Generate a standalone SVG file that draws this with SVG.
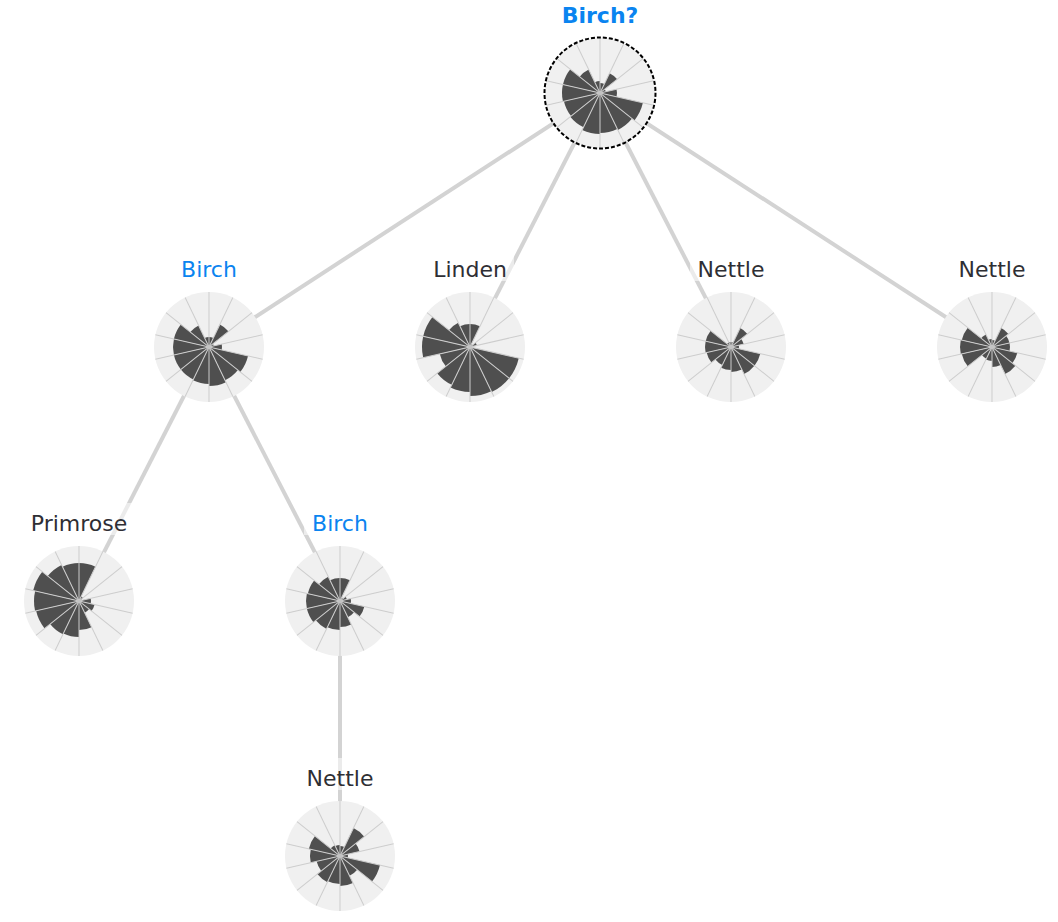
<svg xmlns="http://www.w3.org/2000/svg" width="1058" height="922" viewBox="0 0 1058 922">
  <style>
    .bg{fill:#f0f0f0}
    .bar{fill:#4f4f4f}
    .spk line{stroke:#cdcdcd;stroke-width:1}
    .hub{fill:#c4c4c4}
    .edge{stroke:#d3d3d3;stroke-width:4;fill:none}
    .lbg{fill:#ffffff;fill-opacity:0.55}
    .lbl{font-family:"DejaVu Sans","Noto Sans",sans-serif;font-size:22px;text-anchor:middle;fill:#2e2e34}
    .cur{fill:#0a84f0}
    .root{font-weight:bold}
    .ring{fill:none;stroke:#000;stroke-width:2;stroke-dasharray:4 2}
  </style>
  <defs>
    <!-- one unit wedge of a 14-sector radial bar chart, starting at 12 o'clock -->
    <path id="w" d="M0 0L0 -1A1 1 0 0 1 0.43388 -0.90097Z"/>
    <!-- sector boundary spokes -->
    <g id="spk" class="spk">
      <line x1="0" y1="-55" x2="0" y2="55"/>
      <line x1="0" y1="-55" x2="0" y2="55" transform="rotate(25.714)"/>
      <line x1="0" y1="-55" x2="0" y2="55" transform="rotate(51.429)"/>
      <line x1="0" y1="-55" x2="0" y2="55" transform="rotate(77.143)"/>
      <line x1="0" y1="-55" x2="0" y2="55" transform="rotate(102.857)"/>
      <line x1="0" y1="-55" x2="0" y2="55" transform="rotate(128.571)"/>
      <line x1="0" y1="-55" x2="0" y2="55" transform="rotate(154.286)"/>
    </g>
  </defs>

  <g id="connectors">
    <line class="edge" x1="600" y1="93" x2="209" y2="347"/>
    <line class="edge" x1="600" y1="93" x2="470" y2="347"/>
    <line class="edge" x1="600" y1="93" x2="731" y2="347"/>
    <line class="edge" x1="600" y1="93" x2="992" y2="347"/>
    <line class="edge" x1="209" y1="347" x2="79" y2="601"/>
    <line class="edge" x1="209" y1="347" x2="340" y2="601"/>
    <line class="edge" x1="340" y1="601" x2="340" y2="856"/>
  </g>

  <!-- root: Birch? -->
  <g id="node-root" transform="translate(600,93)">
    <circle class="bg" r="55"/>
    <g class="bar">
      <use href="#w" transform="rotate(0) scale(10)"/>
      <use href="#w" transform="rotate(25.714) scale(22)"/>
      <use href="#w" transform="rotate(51.429) scale(6)"/>
      <use href="#w" transform="rotate(77.143) scale(17)"/>
      <use href="#w" transform="rotate(102.857) scale(44)"/>
      <use href="#w" transform="rotate(128.571) scale(41)"/>
      <use href="#w" transform="rotate(154.286) scale(40)"/>
      <use href="#w" transform="rotate(180) scale(41)"/>
      <use href="#w" transform="rotate(205.714) scale(38)"/>
      <use href="#w" transform="rotate(231.429) scale(37)"/>
      <use href="#w" transform="rotate(257.143) scale(38)"/>
      <use href="#w" transform="rotate(282.857) scale(38)"/>
      <use href="#w" transform="rotate(308.571) scale(26)"/>
      <use href="#w" transform="rotate(334.286) scale(12)"/>
    </g>
    <use href="#spk"/>
    <circle class="hub" r="2"/>
    <circle class="ring" r="55.5"/>
    <rect class="lbg" x="-46" y="-98" width="92" height="32"/>
    <text class="lbl cur root" y="-70">Birch?</text>
  </g>

  <!-- Birch (level 1) -->
  <g id="node-birch-1" transform="translate(209,347)">
    <circle class="bg" r="55"/>
    <g class="bar">
      <use href="#w" transform="rotate(0) scale(10)"/>
      <use href="#w" transform="rotate(25.714) scale(25)"/>
      <use href="#w" transform="rotate(51.429) scale(5)"/>
      <use href="#w" transform="rotate(77.143) scale(13)"/>
      <use href="#w" transform="rotate(102.857) scale(40)"/>
      <use href="#w" transform="rotate(128.571) scale(37)"/>
      <use href="#w" transform="rotate(154.286) scale(39)"/>
      <use href="#w" transform="rotate(180) scale(37)"/>
      <use href="#w" transform="rotate(205.714) scale(36)"/>
      <use href="#w" transform="rotate(231.429) scale(36)"/>
      <use href="#w" transform="rotate(257.143) scale(36)"/>
      <use href="#w" transform="rotate(282.857) scale(36)"/>
      <use href="#w" transform="rotate(308.571) scale(24)"/>
      <use href="#w" transform="rotate(334.286) scale(10)"/>
    </g>
    <use href="#spk"/>
    <circle class="hub" r="2"/>
    <rect class="lbg" x="-36" y="-98" width="72" height="32"/>
    <text class="lbl cur" y="-70">Birch</text>
  </g>

  <!-- Linden -->
  <g id="node-linden" transform="translate(470,347)">
    <circle class="bg" r="55"/>
    <g class="bar">
      <use href="#w" transform="rotate(0) scale(23)"/>
      <use href="#w" transform="rotate(25.714) scale(3)"/>
      <use href="#w" transform="rotate(51.429) scale(7)"/>
      <use href="#w" transform="rotate(77.143) scale(3)"/>
      <use href="#w" transform="rotate(102.857) scale(50)"/>
      <use href="#w" transform="rotate(128.571) scale(50)"/>
      <use href="#w" transform="rotate(154.286) scale(49)"/>
      <use href="#w" transform="rotate(180) scale(45)"/>
      <use href="#w" transform="rotate(205.714) scale(42)"/>
      <use href="#w" transform="rotate(231.429) scale(31)"/>
      <use href="#w" transform="rotate(257.143) scale(48)"/>
      <use href="#w" transform="rotate(282.857) scale(48)"/>
      <use href="#w" transform="rotate(308.571) scale(27)"/>
      <use href="#w" transform="rotate(334.286) scale(23)"/>
    </g>
    <use href="#spk"/>
    <circle class="hub" r="2"/>
    <rect class="lbg" x="-44" y="-98" width="88" height="32"/>
    <text class="lbl" y="-70">Linden</text>
  </g>

  <!-- Nettle (level 1, middle) -->
  <g id="node-nettle-1a" transform="translate(731,347)">
    <circle class="bg" r="55"/>
    <g class="bar">
      <use href="#w" transform="rotate(0) scale(5)"/>
      <use href="#w" transform="rotate(25.714) scale(21)"/>
      <use href="#w" transform="rotate(51.429) scale(13)"/>
      <use href="#w" transform="rotate(77.143) scale(8)"/>
      <use href="#w" transform="rotate(102.857) scale(30)"/>
      <use href="#w" transform="rotate(128.571) scale(30)"/>
      <use href="#w" transform="rotate(154.286) scale(25)"/>
      <use href="#w" transform="rotate(180) scale(23)"/>
      <use href="#w" transform="rotate(205.714) scale(20)"/>
      <use href="#w" transform="rotate(231.429) scale(25)"/>
      <use href="#w" transform="rotate(257.143) scale(26)"/>
      <use href="#w" transform="rotate(282.857) scale(26)"/>
      <use href="#w" transform="rotate(308.571) scale(5)"/>
      <use href="#w" transform="rotate(334.286) scale(5)"/>
    </g>
    <use href="#spk"/>
    <circle class="hub" r="2"/>
    <rect class="lbg" x="-41" y="-98" width="82" height="32"/>
    <text class="lbl" y="-70">Nettle</text>
  </g>

  <!-- Nettle (level 1, right) -->
  <g id="node-nettle-1b" transform="translate(992,347)">
    <circle class="bg" r="55"/>
    <g class="bar">
      <use href="#w" transform="rotate(0) scale(7)"/>
      <use href="#w" transform="rotate(25.714) scale(21)"/>
      <use href="#w" transform="rotate(51.429) scale(18)"/>
      <use href="#w" transform="rotate(77.143) scale(18)"/>
      <use href="#w" transform="rotate(102.857) scale(26)"/>
      <use href="#w" transform="rotate(128.571) scale(30)"/>
      <use href="#w" transform="rotate(154.286) scale(20)"/>
      <use href="#w" transform="rotate(180) scale(14)"/>
      <use href="#w" transform="rotate(205.714) scale(13)"/>
      <use href="#w" transform="rotate(231.429) scale(31)"/>
      <use href="#w" transform="rotate(257.143) scale(32)"/>
      <use href="#w" transform="rotate(282.857) scale(31)"/>
      <use href="#w" transform="rotate(308.571) scale(14)"/>
      <use href="#w" transform="rotate(334.286) scale(8)"/>
    </g>
    <use href="#spk"/>
    <circle class="hub" r="2"/>
    <rect class="lbg" x="-41" y="-98" width="82" height="32"/>
    <text class="lbl" y="-70">Nettle</text>
  </g>

  <!-- Primrose -->
  <g id="node-primrose" transform="translate(79,601)">
    <circle class="bg" r="55"/>
    <g class="bar">
      <use href="#w" transform="rotate(0) scale(38)"/>
      <use href="#w" transform="rotate(25.714) scale(5)"/>
      <use href="#w" transform="rotate(51.429) scale(3)"/>
      <use href="#w" transform="rotate(77.143) scale(12)"/>
      <use href="#w" transform="rotate(102.857) scale(16)"/>
      <use href="#w" transform="rotate(128.571) scale(13)"/>
      <use href="#w" transform="rotate(154.286) scale(29)"/>
      <use href="#w" transform="rotate(180) scale(36)"/>
      <use href="#w" transform="rotate(205.714) scale(37)"/>
      <use href="#w" transform="rotate(231.429) scale(44)"/>
      <use href="#w" transform="rotate(257.143) scale(45)"/>
      <use href="#w" transform="rotate(282.857) scale(47)"/>
      <use href="#w" transform="rotate(308.571) scale(40)"/>
      <use href="#w" transform="rotate(334.286) scale(38)"/>
    </g>
    <use href="#spk"/>
    <circle class="hub" r="2"/>
    <rect class="lbg" x="-56" y="-98" width="112" height="32"/>
    <text class="lbl" y="-70">Primrose</text>
  </g>

  <!-- Birch (level 2) -->
  <g id="node-birch-2" transform="translate(340,601)">
    <circle class="bg" r="55"/>
    <g class="bar">
      <use href="#w" transform="rotate(0) scale(23)"/>
      <use href="#w" transform="rotate(25.714) scale(4)"/>
      <use href="#w" transform="rotate(51.429) scale(7)"/>
      <use href="#w" transform="rotate(77.143) scale(11)"/>
      <use href="#w" transform="rotate(102.857) scale(25)"/>
      <use href="#w" transform="rotate(128.571) scale(18)"/>
      <use href="#w" transform="rotate(154.286) scale(26)"/>
      <use href="#w" transform="rotate(180) scale(29)"/>
      <use href="#w" transform="rotate(205.714) scale(31)"/>
      <use href="#w" transform="rotate(231.429) scale(34)"/>
      <use href="#w" transform="rotate(257.143) scale(34)"/>
      <use href="#w" transform="rotate(282.857) scale(33)"/>
      <use href="#w" transform="rotate(308.571) scale(27)"/>
      <use href="#w" transform="rotate(334.286) scale(23)"/>
    </g>
    <use href="#spk"/>
    <circle class="hub" r="2"/>
    <rect class="lbg" x="-36" y="-98" width="72" height="32"/>
    <text class="lbl cur" y="-70">Birch</text>
  </g>

  <!-- Nettle (level 3) -->
  <g id="node-nettle-3" transform="translate(340,856)">
    <circle class="bg" r="55"/>
    <g class="bar">
      <use href="#w" transform="rotate(0) scale(10)"/>
      <use href="#w" transform="rotate(25.714) scale(31)"/>
      <use href="#w" transform="rotate(51.429) scale(20)"/>
      <use href="#w" transform="rotate(77.143) scale(8)"/>
      <use href="#w" transform="rotate(102.857) scale(41)"/>
      <use href="#w" transform="rotate(128.571) scale(22)"/>
      <use href="#w" transform="rotate(154.286) scale(30)"/>
      <use href="#w" transform="rotate(180) scale(28)"/>
      <use href="#w" transform="rotate(205.714) scale(29)"/>
      <use href="#w" transform="rotate(231.429) scale(24)"/>
      <use href="#w" transform="rotate(257.143) scale(30)"/>
      <use href="#w" transform="rotate(282.857) scale(32)"/>
      <use href="#w" transform="rotate(308.571) scale(12)"/>
      <use href="#w" transform="rotate(334.286) scale(11)"/>
    </g>
    <use href="#spk"/>
    <circle class="hub" r="2"/>
    <rect class="lbg" x="-41" y="-98" width="82" height="32"/>
    <text class="lbl" y="-70">Nettle</text>
  </g>
</svg>
